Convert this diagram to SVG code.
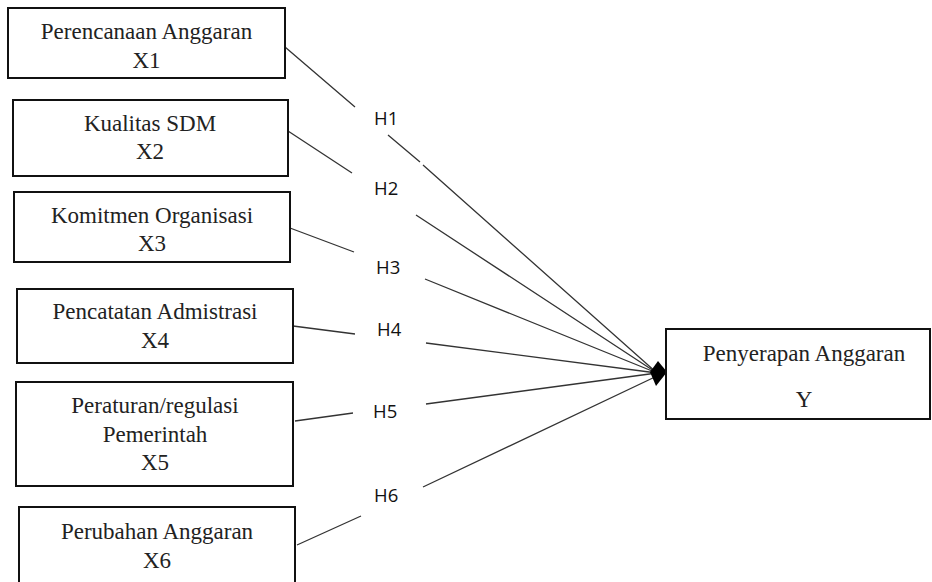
<svg xmlns="http://www.w3.org/2000/svg" width="932" height="582" viewBox="0 0 932 582">
<style>
.box{fill:#fff;stroke:#111;stroke-width:2}
.t{font-family:"Liberation Serif","Times New Roman",serif;font-size:23px;fill:#222;text-anchor:middle}
.h{font-family:"Open Sans","Noto Sans",sans-serif;font-size:18.5px;fill:#111}
.ln{stroke:#333;stroke-width:1.3;fill:none}
</style>
<rect width="932" height="582" fill="#fff"/>
<g id="connectors">
<path class="ln" d="M285 47L355 107M388 135L420 162M423 165L657 373"/>
<path class="ln" d="M288 131L352 173M416 215L657 373"/>
<path class="ln" d="M290 228L354 252M425 279L657 373"/>
<path class="ln" d="M293 326L355 334M426 343L657 373"/>
<path class="ln" d="M295 421L353 413M426 404L657 373"/>
<path class="ln" d="M297 545L361 516M423 487L657 376"/>
<polygon points="667,372 658,361 650,372 656,386" fill="#000"/>
<text class="h" x="374" y="125">H1</text>
<text class="h" x="374" y="195">H2</text>
<text class="h" x="376" y="274">H3</text>
<text class="h" x="377" y="336">H4</text>
<text class="h" x="373" y="418">H5</text>
<text class="h" x="374" y="502">H6</text>
</g>
<g id="x1"><rect class="box" x="8" y="8" width="277" height="70"/><text class="t" x="146.5" y="39">Perencanaan Anggaran</text><text class="t" x="146.5" y="68">X1</text></g>
<g id="x2"><rect class="box" x="13" y="100" width="275" height="76"/><text class="t" x="150" y="131">Kualitas SDM</text><text class="t" x="150" y="159">X2</text></g>
<g id="x3"><rect class="box" x="14" y="192" width="276" height="70"/><text class="t" x="152" y="223">Komitmen Organisasi</text><text class="t" x="152" y="251">X3</text></g>
<g id="x4"><rect class="box" x="17" y="289" width="276" height="74"/><text class="t" x="155" y="319">Pencatatan Admistrasi</text><text class="t" x="155" y="348">X4</text></g>
<g id="x5"><rect class="box" x="16" y="382" width="277" height="104"/><text class="t" x="155" y="413">Peraturan/regulasi</text><text class="t" x="155" y="442">Pemerintah</text><text class="t" x="155" y="470">X5</text></g>
<g id="x6"><rect class="box" x="19" y="507" width="276" height="100"/><text class="t" x="157" y="539">Perubahan Anggaran</text><text class="t" x="157" y="568">X6</text></g>
<g id="y"><rect class="box" x="666" y="329" width="264" height="90"/><text class="t" x="804" y="361">Penyerapan Anggaran</text><text class="t" x="804" y="407">Y</text></g>
</svg>
